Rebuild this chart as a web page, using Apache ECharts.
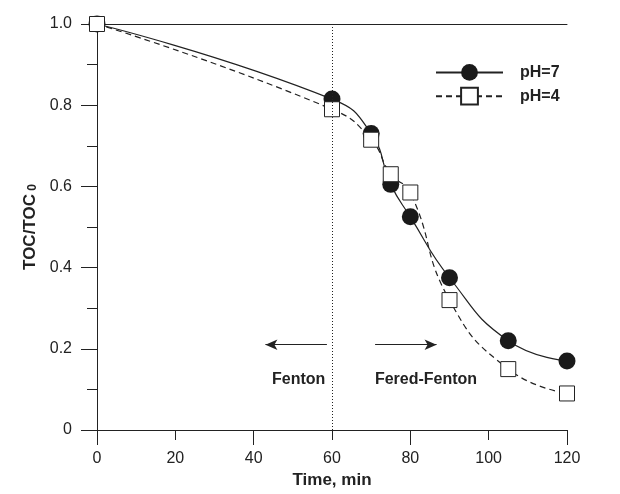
<!DOCTYPE html>
<html>
<head>
<meta charset="utf-8">
<script src="https://cdn.jsdelivr.net/npm/echarts@6/dist/echarts.min.js"></script>
<style>
  html, body { margin: 0; padding: 0; background: #fff; }
  #chart { width: 620px; height: 494px; }
</style>
</head>
<body>
<div id="chart"></div>
<script>
const time = [0, 60, 70, 75, 80, 90, 105, 120]
const ph7 = [1.0, 0.815, 0.73, 0.605, 0.525, 0.375, 0.22, 0.17]
const ph4 = [1.0, 0.79, 0.715, 0.63, 0.585, 0.32, 0.15, 0.09]
const seriesNames = ['pH=7', 'pH=4']
const phaseSplit = 60
const phaseLabels = ['Fenton', 'Fered-Fenton']

const ink = '#222'
const font = 'Liberation Sans, Arial, sans-serif'

const chart = echarts.init(document.getElementById('chart'))

const pairs = (vals) => time.map((t, i) => [t, vals[i]])

const option = {
  animation: false,
  textStyle: { fontFamily: font, color: ink },
  grid: { left: 97, right: 53, top: 24, bottom: 64 },
  legend: {
    data: seriesNames,
    orient: 'vertical',
    left: 430,
    top: 59,
    itemWidth: 67,
    itemHeight: 21,
    itemGap: 6,
    selectedMode: false,
    textStyle: { fontFamily: font, fontSize: 16, fontWeight: 'bold', color: ink, padding: [0, 0, 0, 12] }
  },
  xAxis: [
    {
      // ticks only: major 40, minor 20
      type: 'value', min: 0, max: 120, interval: 40, position: 'bottom',
      axisLine: { lineStyle: { color: ink, width: 1 } },
      axisTick: { length: 15, lineStyle: { color: ink } },
      minorTick: { show: true, splitNumber: 2, length: 10, lineStyle: { color: ink } },
      axisLabel: { show: false },
      splitLine: { show: false }
    },
    {
      // tick labels + axis name
      type: 'value', min: 0, max: 120, interval: 20, position: 'bottom',
      axisLine: { show: false }, axisTick: { show: false }, splitLine: { show: false },
      axisLabel: { margin: 21, fontSize: 16, color: ink, fontFamily: font },
      name: 'Time, min', nameLocation: 'middle', nameGap: 41,
      nameTextStyle: { fontSize: 17, fontWeight: 'bold', color: ink, fontFamily: font }
    },
    {
      type: 'value', min: 0, max: 120, position: 'top',
      axisLine: { lineStyle: { color: ink, width: 1 } },
      axisTick: { show: false }, axisLabel: { show: false }, splitLine: { show: false }
    }
  ],
  yAxis: [
    {
      type: 'value', min: 0, max: 1, interval: 0.2, position: 'left',
      axisLine: { show: true, lineStyle: { color: ink, width: 1 } },
      axisTick: { show: true, length: 16, lineStyle: { color: ink } },
      minorTick: { show: true, splitNumber: 2, length: 10, lineStyle: { color: ink } },
      splitLine: { show: false },
      axisLabel: {
        margin: 25, fontSize: 16, color: ink, fontFamily: font,
        formatter: v => v === 0 ? '0' : v.toFixed(1)
      },
      name: '{a|TOC/TOC}{b| 0}', nameLocation: 'middle', nameGap: 56,
      nameTextStyle: {
        rich: {
          a: { fontSize: 17, fontWeight: 'bold', color: ink, fontFamily: font },
          b: { fontSize: 12, fontWeight: 'bold', color: ink, fontFamily: font, verticalAlign: 'bottom', padding: [4, 0, 0, 0] }
        }
      }
    },
    {
      type: 'value', min: 0, max: 1, position: 'right',
      axisLine: { show: true, lineStyle: { color: ink, width: 1 } },
      axisTick: { show: false }, axisLabel: { show: false }, splitLine: { show: false }
    }
  ],
  series: [
    {
      name: seriesNames[0],
      type: 'line',
      smooth: 0.5,
      data: pairs(ph7),
      symbol: 'circle',
      symbolSize: 17,
      itemStyle: { color: '#1a1a1a' },
      lineStyle: { color: ink, width: 1.2 },
      emphasis: { disabled: true },
      z: 2,
      markLine: {
        silent: true,
        symbol: ['none', 'none'],
        label: { show: false },
        lineStyle: { color: ink, width: 1.2, type: 'solid' },
        data: [
          { xAxis: phaseSplit, lineStyle: { type: [1, 2], width: 1 } },
          [{ coord: [58.7, 0.21] }, { coord: [43, 0.21], symbol: 'arrow', symbolSize: [8, 12] }],
          [{ coord: [71, 0.21] }, { coord: [86.7, 0.21], symbol: 'arrow', symbolSize: [8, 12] }]
        ]
      },
      markPoint: {
        silent: true,
        symbol: 'circle',
        symbolSize: 0,
        label: {
          show: true, formatter: '{b}', fontSize: 16, fontWeight: 'bold',
          color: ink, fontFamily: font
        },
        data: [
          { name: phaseLabels[0], coord: [51.5, 0.123] },
          { name: phaseLabels[1], coord: [84, 0.123] }
        ]
      }
    },
    {
      name: seriesNames[1],
      type: 'line',
      smooth: 0.5,
      data: pairs(ph4),
      symbol: 'rect',
      symbolSize: 15,
      itemStyle: { color: '#fff', borderColor: ink, borderWidth: 1 },
      lineStyle: { color: ink, width: 1.2, type: [6, 4] },
      emphasis: { disabled: true },
      z: 3
    }
  ]
}

chart.setOption(option)
</script>
</body>
</html>
